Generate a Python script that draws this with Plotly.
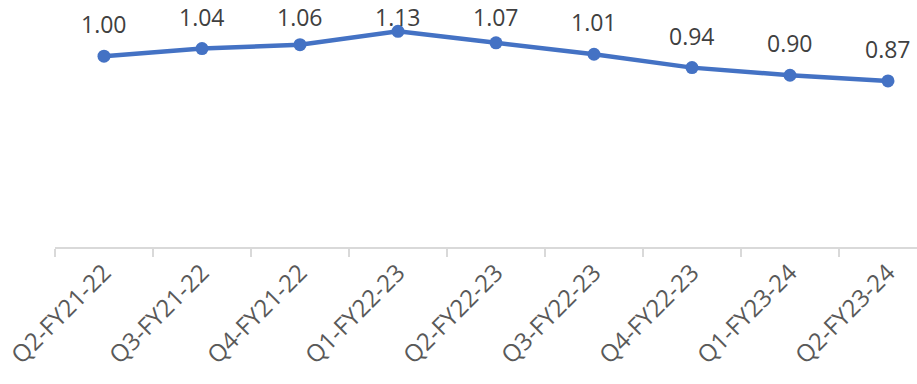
import plotly.graph_objects as go

quarters = ['Q2-FY21-22', 'Q3-FY21-22', 'Q4-FY21-22', 'Q1-FY22-23', 'Q2-FY22-23',
            'Q3-FY22-23', 'Q4-FY22-23', 'Q1-FY23-24', 'Q2-FY23-24']
ratio = [1.00, 1.04, 1.06, 1.13, 1.07, 1.01, 0.94, 0.90, 0.87]

BLUE = '#4472C4'
AXIS = '#D9D9D9'
TICK_TXT = '#595959'
LABEL_TXT = '#404040'
FONT = 'Open Sans'
LABEL_CEIL = 1.035  # labels are pushed down to stay inside the chart area

fig = go.Figure()
fig.add_trace(go.Scatter(
    x=quarters, y=ratio, mode='lines+markers',
    line=dict(color=BLUE, width=4.5),
    marker=dict(color=BLUE, size=13),
    cliponaxis=False, hoverinfo='x+y',
))

for q, v in zip(quarters, ratio):
    fig.add_annotation(
        x=q, y=min(v, LABEL_CEIL), text=f'{v:.2f}', showarrow=False,
        yshift=32, yanchor='middle',
        font=dict(family=FONT, size=23, color=LABEL_TXT),
    )

fig.update_layout(
    width=917, height=384,
    margin=dict(l=55, r=0, t=18, b=137),
    paper_bgcolor='white', plot_bgcolor='white',
    showlegend=False,
    font=dict(family=FONT, color=TICK_TXT),
)
fig.update_xaxes(
    type='category', range=[-0.5, 8.296], automargin=False,
    showline=True, linecolor=AXIS, linewidth=2,
    ticks='outside', tickson='boundaries', ticklen=8, tickcolor=AXIS, tickwidth=2,
    tickangle=-45, tickfont=dict(family=FONT, size=24, color=TICK_TXT),
    showgrid=False, zeroline=False,
)
fig.update_yaxes(range=[0, 1.2], visible=False, showgrid=False, zeroline=False,
                 automargin=False)

# drop the browser's default 8px body margin so the figure sits at the page corner
fig.write_html('out.html', config={'displayModeBar': False},
               post_script="document.body.style.margin = '0';")
